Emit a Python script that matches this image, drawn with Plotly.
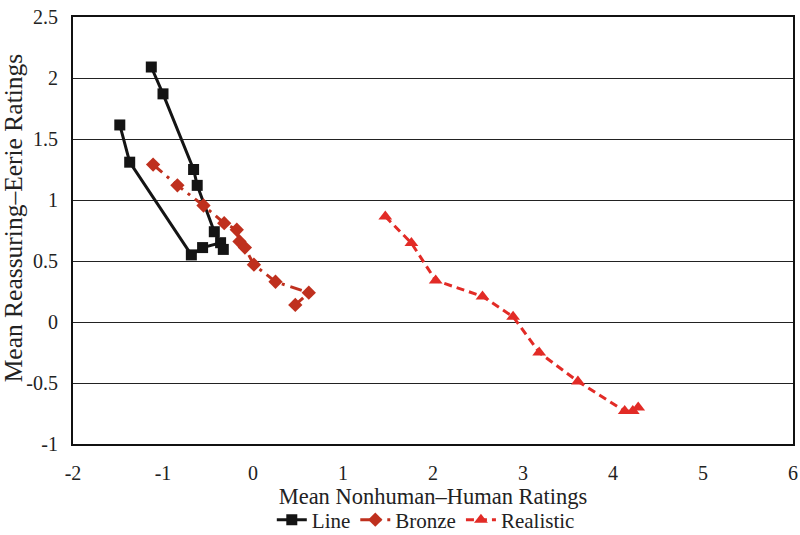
import plotly.graph_objects as go

# Data
line_x = [-1.48, -1.37, -0.685, -0.56, -0.36, -0.33, -0.43, -0.62, -0.66, -1.0, -1.13]
line_y = [1.615, 1.31, 0.55, 0.61, 0.65, 0.595, 0.74, 1.12, 1.25, 1.87, 2.09]

bronze_x = [-1.11, -0.84, -0.55, -0.32, -0.18, -0.15, -0.09, 0.01, 0.25, 0.62, 0.47]
bronze_y = [1.29, 1.12, 0.955, 0.81, 0.756, 0.66, 0.61, 0.47, 0.33, 0.24, 0.14]

real_x = [1.47, 1.76, 2.03, 2.55, 2.89, 3.18, 3.61, 4.13, 4.22, 4.28]
real_y = [0.865, 0.647, 0.34, 0.21, 0.043, -0.25, -0.487, -0.73, -0.73, -0.70]

x_ticks = [-2, -1, 0, 1, 2, 3, 4, 5, 6]
x_labels = ["-2", "-1", "0", "1", "2", "3", "4", "5", "6"]
y_ticks = [2.5, 2, 1.5, 1, 0.5, 0, -0.5, -1]
y_labels = ["2.5", "2", "1.5", "1", "0.5", "0", "-0.5", "-1"]

FONT = "Liberation Serif, Times New Roman, serif"

fig = go.Figure()
fig.add_trace(go.Scatter(
    x=line_x, y=line_y, name="Line", mode="lines+markers",
    line=dict(color="#141414", width=3),
    marker=dict(symbol="square", size=11, color="#141414"),
))
fig.add_trace(go.Scatter(
    x=bronze_x, y=bronze_y, name="Bronze", mode="lines+markers",
    line=dict(color="#bf301e", width=3, dash="12px,6px,3px,6px"),
    marker=dict(symbol="diamond", size=11, color="#bf301e"),
))
fig.add_trace(go.Scatter(
    x=real_x, y=real_y, name="Realistic", mode="lines+markers",
    line=dict(color="#e22b26", width=3, dash="8px,5px"),
    marker=dict(symbol="triangle-up", size=12, color="#e22b26"),
))

fig.update_layout(
    width=800, height=535,
    margin=dict(l=73, r=7, t=17, b=91, autoexpand=False),
    paper_bgcolor="white", plot_bgcolor="white",
    font=dict(family=FONT, size=20, color="#222"),
    showlegend=True,
    legend=dict(orientation="h", x=0.49, xanchor="center", y=-0.178, yanchor="middle",
                font=dict(family=FONT, size=21, color="#222"), itemwidth=30, tracegroupgap=0,
                borderwidth=0, bgcolor="rgba(0,0,0,0)"),
    annotations=[dict(
        text="Mean Reassuring\u2013Eerie Ratings", textangle=-90,
        xref="paper", yref="paper", x=-0.083, y=0.529,
        xanchor="center", yanchor="middle", showarrow=False,
        font=dict(family=FONT, size=25.5, color="#222"),
    )],
)
fig.update_xaxes(
    range=[-2, 6], tickvals=x_ticks, ticktext=x_labels,
    showgrid=False, zeroline=False, showline=True, mirror=True,
    linecolor="#111", linewidth=2, ticks="", automargin=False,
    ticklabeloverflow="allow", ticklabelstandoff=10,
    title=dict(text="Mean Nonhuman\u2013Human Ratings", font=dict(family=FONT, size=22.5, color="#222"), standoff=4),
    tickfont=dict(family=FONT, size=20, color="#222"),
)
fig.update_yaxes(
    range=[-1, 2.5], tickvals=y_ticks, ticktext=y_labels,
    showgrid=True, gridcolor="#222", gridwidth=1.3, zeroline=False,
    showline=True, mirror=True, linecolor="#111", linewidth=2, ticks="",
    automargin=False, ticklabeloverflow="allow", ticklabelstandoff=9,
    tickfont=dict(family=FONT, size=20, color="#222"),
)

fig.write_html("out.html", config={"displayModeBar": False},
               post_script="document.body.style.margin='0';document.body.style.overflow='hidden';")
